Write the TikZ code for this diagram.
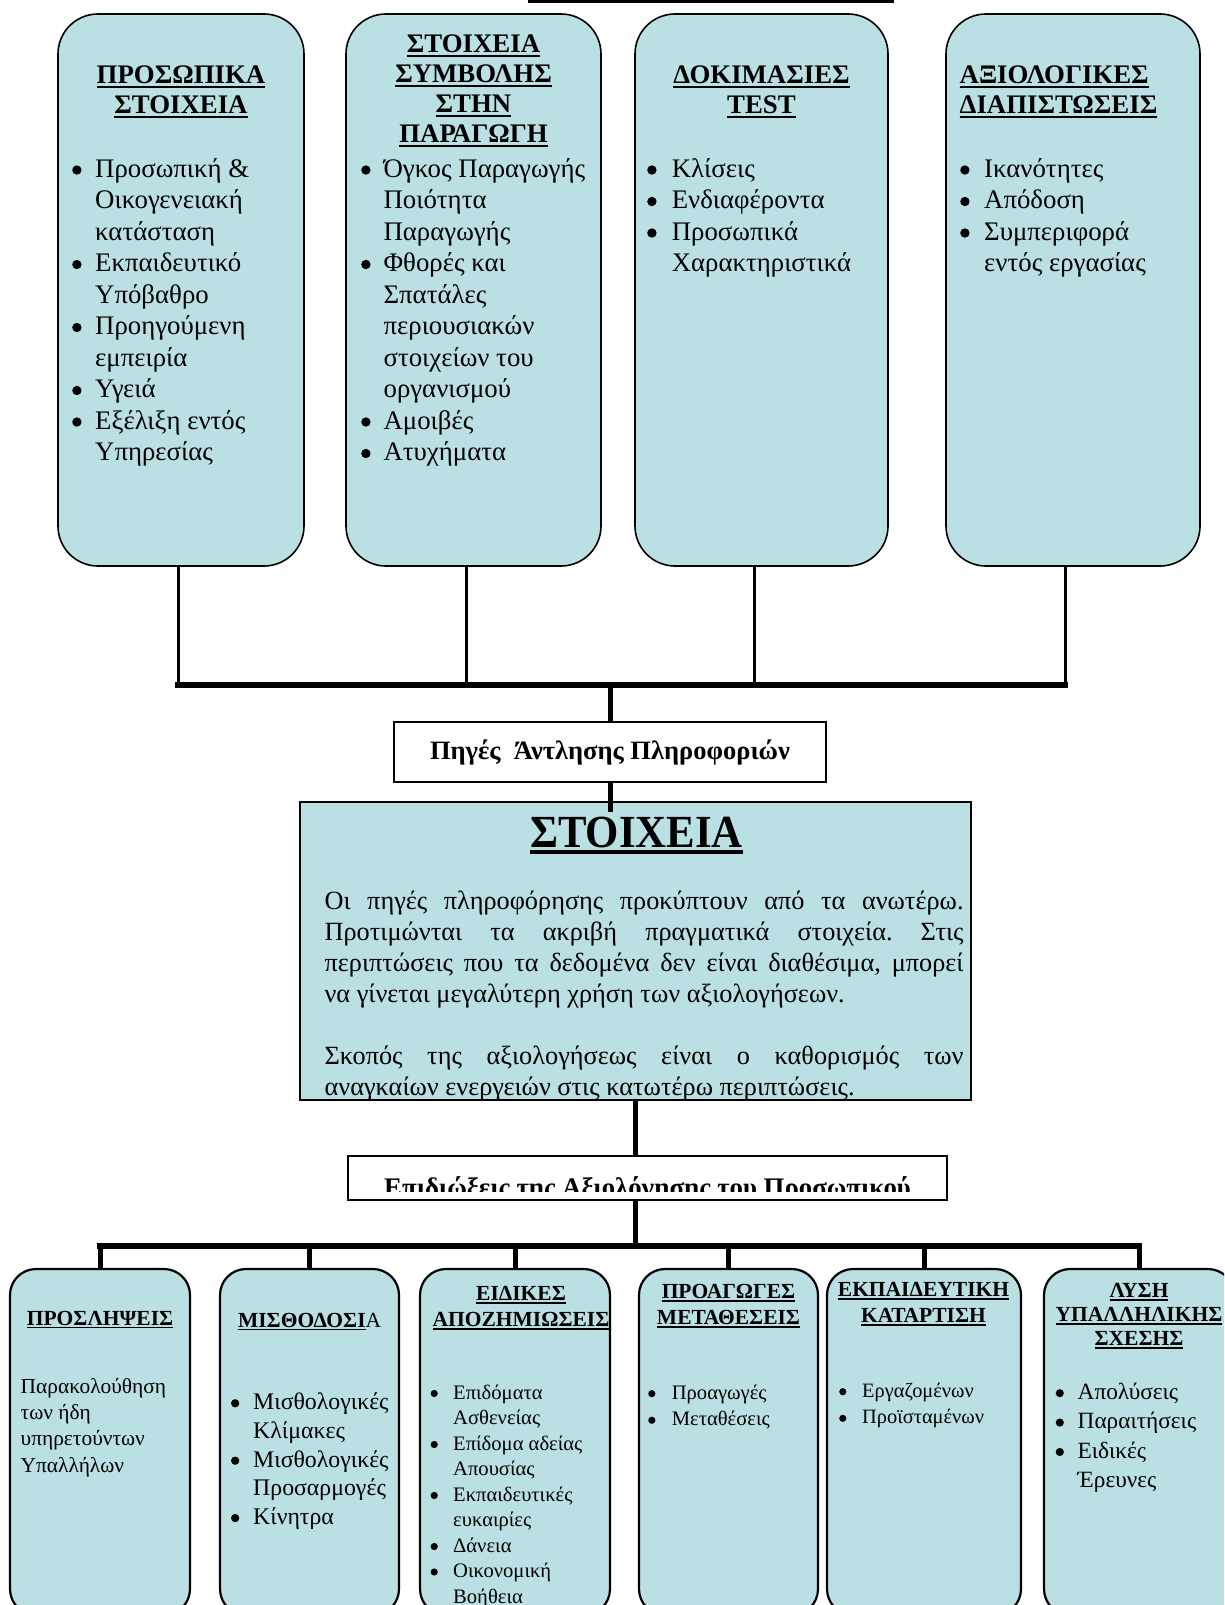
\documentclass[tikz,border=0pt]{standalone}
\usepackage{fontspec}
\setmainfont{Liberation Serif}
\usepackage{tikz}
\usetikzlibrary{positioning}
\definecolor{paleblue}{RGB}{187,224,227}
\newlength{\bulw}
\newcommand{\itm}{\makebox[\bulw][l]{\tikz[baseline=0pt]\fill[black] (0.175em,0.27em) circle[radius=0.175em];}}
\newcommand{\headul}[1]{\setbox0\hbox{#1}\leavevmode\rlap{\rule[-0.16em]{\wd0}{0.09em}}\box0}

\begin{document}
\begin{tikzpicture}[x=1pt, y=-1pt,
    topbox/.style={rectangle, rounded corners=40pt, draw=black, line width=1.6pt, fill=paleblue, inner sep=0pt, minimum height=552pt, minimum width=#1},
    botbox/.style={rectangle, rounded corners=26pt, draw=black, line width=2.2pt, fill=paleblue, inner sep=0pt, minimum height=346pt, minimum width=#1},
    plainbox/.style={rectangle, draw=black, line width=2pt, inner sep=0pt},
    tophead/.style={inner sep=0pt, anchor=north, font=\bfseries\fontsize{26.8}{30}\selectfont},
    toplist/.style={inner sep=0pt, anchor=north west, font=\fontsize{26.8}{31.5}\selectfont},
    bothead/.style={inner sep=0pt, anchor=north, font=\bfseries\fontsize{21.5}{26}\selectfont},
    botlist/.style={inner sep=0pt, anchor=north west, font=\fontsize{20.6}{26.6}\selectfont},
    stem/.style={line width=3pt},
    bus/.style={line width=6pt, line cap=rect},
    trunk/.style={line width=5pt}]

    \useasboundingbox (0,0) rectangle (1224,1605);
    \clip (0,0) rectangle (1224,1605);

    %Nodes
    \node[topbox=246pt](prosopika) at (181,290){};
    \node[topbox=255pt](symvoli) at (473.5,290){};
    \node[topbox=253pt](dokimasies) at (761.5,290){};
    \node[topbox=254pt](axiologikes) at (1073,290){};

    \node[tophead](prosopika_title) at (181,62.5){\begin{tabular}{@{}c@{}}\headul{ΠΡΟΣΩΠΙΚΑ}\\ \headul{ΣΤΟΙΧΕΙΑ}\end{tabular}};
    \node[tophead](symvoli_title) at (473.5,31.5){\begin{tabular}{@{}c@{}}\headul{ΣΤΟΙΧΕΙΑ}\\ \headul{ΣΥΜΒΟΛΗΣ}\\ \headul{ΣΤΗΝ}\\ \headul{ΠΑΡΑΓΩΓΗ}\end{tabular}};
    \node[tophead](dokimasies_title) at (761.5,62.5){\begin{tabular}{@{}c@{}}\headul{ΔΟΚΙΜΑΣΙΕΣ}\\ \headul{TEST}\end{tabular}};
    \node[tophead, anchor=north west](axiologikes_title) at (959.5,62.5){\begin{tabular}{@{}l@{}}\headul{ΑΞΙΟΛΟΓΙΚΕΣ}\\ \headul{ΔΙΑΠΙΣΤΩΣΕΙΣ}\end{tabular}};

    \node[toplist](prosopika_text) at (72,155){\setlength{\bulw}{23pt}\begin{tabular}{@{}l@{}l@{}}
        \itm & Προσωπική \& \\
             & Οικογενειακή \\
             & κατάσταση \\
        \itm & Εκπαιδευτικό \\
             & Υπόβαθρο \\
        \itm & Προηγούμενη \\
             & εμπειρία \\
        \itm & Υγειά \\
        \itm & Εξέλιξη εντός \\
             & Υπηρεσίας
    \end{tabular}};
    \node[toplist](symvoli_text) at (361,155){\setlength{\bulw}{22.4pt}\begin{tabular}{@{}l@{}l@{}}
        \itm & Όγκος Παραγωγής \\
             & Ποιότητα \\
             & Παραγωγής \\
        \itm & Φθορές και \\
             & Σπατάλες \\
             & περιουσιακών \\
             & στοιχείων του \\
             & οργανισμού \\
        \itm & Αμοιβές \\
        \itm & Ατυχήματα
    \end{tabular}};
    \node[toplist](dokimasies_text) at (647,155){\setlength{\bulw}{24.6pt}\begin{tabular}{@{}l@{}l@{}}
        \itm & Κλίσεις \\
        \itm & Ενδιαφέροντα \\
        \itm & Προσωπικά \\
             & Χαρακτηριστικά
    \end{tabular}};
    \node[toplist](axiologikes_text) at (960,155){\setlength{\bulw}{24pt}\begin{tabular}{@{}l@{}l@{}}
        \itm & Ικανότητες \\
        \itm & Απόδοση \\
        \itm & Συμπεριφορά \\
             & εντός εργασίας
    \end{tabular}};

    \node[plainbox, fill=white, minimum width=432pt, minimum height=60pt, font=\bfseries\fontsize{26.5}{30}\selectfont](piges) at (610,752){Πηγές\ \ Άντλησης Πληροφοριών};

    \node[plainbox, fill=paleblue, minimum width=671pt, minimum height=298pt](stoixeia) at (635.5,951){};
    \node[anchor=base, inner sep=0pt, font=\bfseries\fontsize{46}{50}\selectfont](stoixeia_title) at (636.5,847){\scalebox{0.93}[1]{\headul{ΣΤΟΙΧΕΙΑ}}};
    \node[anchor=north west, inner sep=0pt, font=\fontsize{26.3}{30.9}\selectfont](stoixeia_text) at (324.4,888){\frenchspacing\begin{tabular}{@{}l@{}}
        \makebox[639pt][s]{Οι πηγές πληροφόρησης προκύπτουν από τα ανωτέρω.}\\
        \makebox[639pt][s]{Προτιμώνται τα ακριβή πραγματικά στοιχεία. Στις}\\
        \makebox[639pt][s]{περιπτώσεις που τα δεδομένα δεν είναι διαθέσιμα, μπορεί}\\
        να γίνεται μεγαλύτερη χρήση των αξιολογήσεων.\\
        \\
        \makebox[639pt][s]{Σκοπός της αξιολογήσεως είναι ο καθορισμός των}\\
        αναγκαίων ενεργειών στις κατωτέρω περιπτώσεις.
    \end{tabular}};

    \node[plainbox, fill=white, minimum width=599pt, minimum height=44pt](epidioxeis) at (647.5,1178){};
    \begin{scope}
        \clip (epidioxeis.north west) rectangle ([yshift=10pt]epidioxeis.south east);
        \node[anchor=base, inner sep=0pt, font=\bfseries\fontsize{26.8}{30}\selectfont](epidioxeis_text) at (647.5,1196){Επιδιώξεις της Αξιολόγησης του Προσωπικού};
    \end{scope}

    \node[botbox=180pt](proslipseis) at (100,1442){};
    \node[botbox=179pt](misthodosia) at (309.5,1442){};
    \node[botbox=190pt](apozimioseis) at (515,1442){};
    \node[botbox=179pt](proagoges) at (728.5,1442){};
    \node[botbox=194pt](ekpaideusi) at (924,1442){};
    \node[botbox=190pt](lysi) at (1139,1442){};

    \node[bothead, anchor=base](proslipseis_title) at (100,1325){\headul{ΠΡΟΣΛΗΨΕΙΣ}};
    \node[bothead, anchor=base](misthodosia_title) at (309.6,1327){\headul{ΜΙΣΘΟΔΟΣΙ}{\mdseries Α}};
    \begin{scope}
        \clip ([xshift=1.1pt]apozimioseis.south west) rectangle ([xshift=-1.1pt]apozimioseis.north east);
        \node[bothead](apozimioseis_title) at (521,1282.4){\begin{tabular}{@{}c@{}}\headul{ΕΙΔΙΚΕΣ}\\ \headul{ΑΠΟΖΗΜΙΩΣΕΙΣ}\end{tabular}};
    \end{scope}
    \node[bothead](proagoges_title) at (728.5,1280.4){\begin{tabular}{@{}c@{}}\headul{ΠΡΟΑΓΩΓΕΣ}\\ \headul{ΜΕΤΑΘΕΣΕΙΣ}\end{tabular}};
    \node[bothead](ekpaideusi_title) at (923.5,1278.3){\begin{tabular}{@{}c@{}}\headul{ΕΚΠΑΙΔΕΥΤΙΚΗ}\\ \headul{ΚΑΤΑΡΤΙΣΗ}\end{tabular}};
    \node[bothead, font=\bfseries\fontsize{21.5}{24}\selectfont](lysi_title) at (1139,1280.7){\begin{tabular}{@{}c@{}}\headul{ΛΥΣΗ}\\ \headul{ΥΠΑΛΛΗΛΙΚΗΣ}\\ \headul{ΣΧΕΣΗΣ}\end{tabular}};

    \node[botlist, font=\fontsize{21.4}{26.3}\selectfont](proslipseis_text) at (20.5,1374.6){\begin{tabular}{@{}l@{}}
        Παρακολούθηση\\ των ήδη\\ υπηρετούντων\\ Υπαλλήλων
    \end{tabular}};
    \node[botlist, font=\fontsize{23.8}{28.7}\selectfont](misthodosia_text) at (230.8,1389.4){\setlength{\bulw}{22.2pt}\begin{tabular}{@{}l@{}l@{}}
        \itm & Μισθολογικές \\
             & Κλίμακες \\
        \itm & Μισθολογικές \\
             & Προσαρμογές \\
        \itm & Κίνητρα
    \end{tabular}};
    \node[botlist, font=\fontsize{20.6}{25.5}\selectfont](apozimioseis_text) at (430.4,1381){\setlength{\bulw}{22.6pt}\begin{tabular}{@{}l@{}l@{}}
        \itm & Επιδόματα \\
             & Ασθενείας \\
        \itm & Επίδομα αδείας \\
             & Απουσίας \\
        \itm & Εκπαιδευτικές \\
             & ευκαιρίες \\
        \itm & Δάνεια \\
        \itm & Οικονομική \\
             & Βοήθεια
    \end{tabular}};
    \node[botlist](proagoges_text) at (648,1380.4){\setlength{\bulw}{23.6pt}\begin{tabular}{@{}l@{}l@{}}
        \itm & Προαγωγές \\
        \itm & Μεταθέσεις
    \end{tabular}};
    \node[botlist, font=\fontsize{20.4}{26.6}\selectfont](ekpaideusi_text) at (839,1378.4){\setlength{\bulw}{23pt}\begin{tabular}{@{}l@{}l@{}}
        \itm & Εργαζομένων \\
        \itm & Προϊσταμένων
    \end{tabular}};
    \node[botlist, font=\fontsize{23.3}{29.4}\selectfont](lysi_text) at (1055.5,1378.7){\setlength{\bulw}{22pt}\begin{tabular}{@{}l@{}l@{}}
        \itm & Απολύσεις \\
        \itm & Παραιτήσεις \\
        \itm & Ειδικές \\
             & Έρευνες
    \end{tabular}};

    %Lines
    \draw[line width=3pt] (528,1.5) -- (894,1.5);
    \coordinate (topbus) at (0,685);
    \coordinate (botbus) at (0,1245.5);
    \coordinate (stoixeia_top) at ([yshift=-11pt]stoixeia.north);
    \coordinate (prosopika_foot) at ([xshift=-3pt]prosopika.south);
    \coordinate (symvoli_foot) at ([xshift=-6.8pt]symvoli.south);
    \coordinate (dokimasies_foot) at ([xshift=-7.3pt]dokimasies.south);
    \coordinate (axiologikes_foot) at ([xshift=-7.6pt]axiologikes.south);

    \draw[stem] (prosopika_foot) -- (prosopika_foot |- topbus);
    \draw[stem] (symvoli_foot) -- (symvoli_foot |- topbus);
    \draw[stem] (dokimasies_foot) -- (dokimasies_foot |- topbus);
    \draw[stem] (axiologikes_foot) -- (axiologikes_foot |- topbus);
    \draw[bus] (prosopika_foot |- topbus) -- (axiologikes_foot |- topbus);

    \draw[trunk] (piges.north |- topbus) -- (piges.north);
    \draw[trunk] (piges.south) -- (piges.south |- stoixeia_top);
    \draw[trunk] (stoixeia.south) -- (stoixeia.south |- epidioxeis.north);
    \draw[trunk] (stoixeia.south |- epidioxeis.south) -- (stoixeia.south |- botbus);

    \draw[bus] (proslipseis.north |- botbus) -- (lysi.north |- botbus);
    \draw[trunk] (proslipseis.north) -- (proslipseis.north |- botbus);
    \draw[trunk] (misthodosia.north) -- (misthodosia.north |- botbus);
    \draw[trunk] (apozimioseis.north) -- (apozimioseis.north |- botbus);
    \draw[trunk] (proagoges.north) -- (proagoges.north |- botbus);
    \draw[trunk] (ekpaideusi.north) -- (ekpaideusi.north |- botbus);
    \draw[trunk] (lysi.north) -- (lysi.north |- botbus);

\end{tikzpicture}
\end{document}
